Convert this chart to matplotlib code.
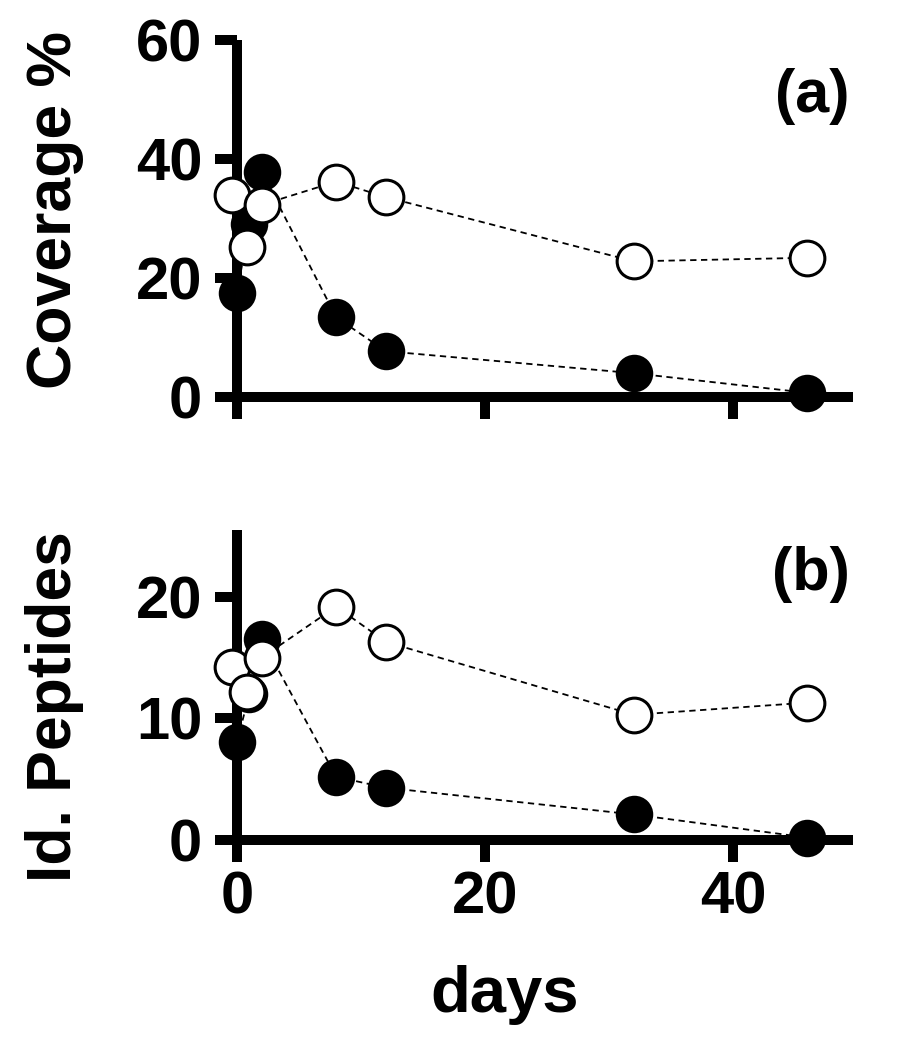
import matplotlib
matplotlib.use("Agg")
import matplotlib.pyplot as plt

# ---- data ----
days_open = [-0.4, 0.8, 2, 8, 12, 32, 46]
days_filled = [0, 1, 2, 8, 12, 32, 46]

cov_open = [34, 25.2, 32.3, 36.2, 33.6, 22.8, 23.4]
cov_filled = [17.5, 29, 37.8, 13.4, 7.7, 4.0, 0.7]

pep_open = [14.2, 12.2, 15.0, 19.2, 16.3, 10.3, 11.3]
pep_filled = [8.1, 12, 16.5, 5.2, 4.3, 2.1, 0.2]

xticks = [0, 20, 40]
yticks_a = [0, 20, 40, 60]
yticks_b = [0, 10, 20]

plt.rcParams['font.family'] = ['Liberation Sans', 'DejaVu Sans']
plt.rcParams['font.weight'] = 'bold'

W, H = 897, 1050
fig = plt.figure(figsize=(W / 100, H / 100), dpi=100)

x0px, x1px = 237, 853
ax1 = fig.add_axes([x0px / W, 1 - 397 / H, (x1px - x0px) / W, (397 - 40) / H])
ax2 = fig.add_axes([x0px / W, 1 - 840 / H, (x1px - x0px) / W, (840 - 530) / H])

spine_lw = 7.2
for ax, yo, yf, yt, ylim in [(ax1, cov_open, cov_filled, yticks_a, (0, 60)),
                             (ax2, pep_open, pep_filled, yticks_b, (0, 25.5))]:
    ax.plot(days_filled, yf, linestyle=(0, (3.5, 2.5)), color='black', lw=1.3,
            zorder=2, clip_on=False)
    ax.plot(days_open, yo, linestyle=(0, (3.5, 2.5)), color='black', lw=1.3,
            zorder=2, clip_on=False)
    ax.plot(days_filled, yf, linestyle='none', marker='o', ms=27,
            mfc='black', mec='black', mew=0, zorder=4, clip_on=False)
    ax.plot(days_open, yo, linestyle='none', marker='o', ms=25,
            mfc='white', mec='black', mew=2.2, zorder=5, clip_on=False)
    ax.set_xlim(0, (x1px - x0px) / 12.4)
    ax.set_ylim(*ylim)
    ax.set_xticks(xticks)
    ax.set_yticks(yt)
    for s in ['top', 'right']:
        ax.spines[s].set_visible(False)
    for s in ['left', 'bottom']:
        ax.spines[s].set_linewidth(spine_lw)
        ax.spines[s].set_capstyle('butt')
        ax.spines[s].set_zorder(3)
    ax.tick_params(direction='out', length=16, width=spine_lw, labelsize=43,
                   pad=9)
    ax.patch.set_alpha(0)
    for lab in ax.get_xticklabels() + ax.get_yticklabels():
        lab.set_fontweight('bold')

ax1.tick_params(axis='x', labelbottom=False)
ax2.tick_params(axis='x', pad=6)

ax1.text(0.995, 50.5, '(a)', transform=ax1.get_yaxis_transform(), ha='right',
         va='center', fontsize=44, fontweight='bold')
ax2.text(0.995, 21.8, '(b)', transform=ax2.get_yaxis_transform(), ha='right',
         va='center', fontsize=44, fontweight='bold')

fig.text(55 / W, 1 - 210 / H, 'Coverage %', rotation=90, ha='center',
         va='center', fontsize=45, fontweight='bold')
fig.text(55 / W, 1 - 707 / H, 'Id. Peptides', rotation=90, ha='center',
         va='center', fontsize=45, fontweight='bold')
fig.text(505 / W, 1 - 995 / H, 'days', ha='center', va='center',
         fontsize=47, fontweight='bold')

fig.savefig('out.png', dpi=100, facecolor='white')
